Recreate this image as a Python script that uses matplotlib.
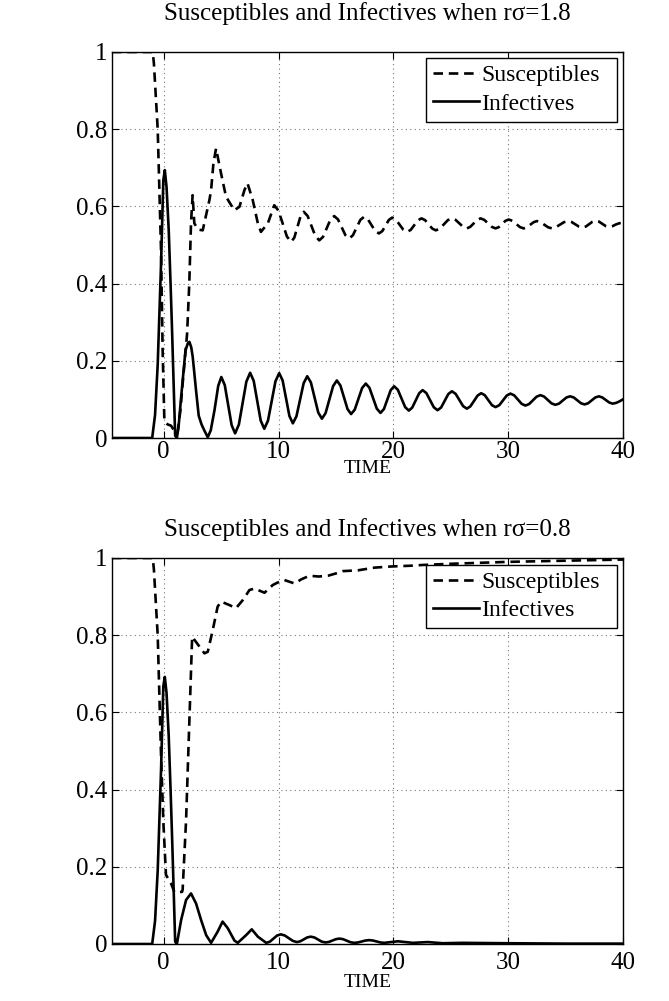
import matplotlib
matplotlib.use("Agg")
import matplotlib.pyplot as plt

plt.rcParams['font.family'] = ['Liberation Serif', 'DejaVu Serif']

# ---------------- data ----------------
titles = ["Susceptibles and Infectives when r\u03c3=1.8",
          "Susceptibles and Infectives when r\u03c3=0.8"]
series_names = ["Susceptibles", "Infectives"]
xticks = [0, 10, 20, 30, 40]
yticks = [0, 0.2, 0.4, 0.6, 0.8, 1.0]
yticklabels = ["0", "0.2", "0.4", "0.6", "0.8", "1"]

# top panel, infectives
t_i1 = [-4.5, -1.0, -0.75, -0.52, -0.23, -0.03, 0.1, 0.25, 0.44, 0.6, 0.73, 0.88, 1.0, 1.15,
        1.3, 1.52, 1.9, 2.1, 2.24, 2.4, 2.53, 2.82, 3.05, 3.3, 3.55, 3.84, 4.1, 4.42, 4.75,
        5.02, 5.32, 5.62, 5.92, 6.22, 6.55, 6.875, 7.2, 7.53, 7.84, 8.145, 8.45, 8.76,
        9.085, 9.41, 9.735, 10.06, 10.36, 10.655, 10.95, 11.25, 11.56, 11.875, 12.19, 12.5,
        12.82, 13.14, 13.46, 13.78, 14.1, 14.43, 14.755, 15.08, 15.39, 15.7, 16.01, 16.32,
        16.64, 16.96, 17.28, 17.6, 17.92, 18.24, 18.56, 18.88, 19.18, 19.475, 19.77, 20.07,
        20.39, 20.71, 21.03, 21.35, 21.65, 21.95, 22.25, 22.55, 22.875, 23.2, 23.525, 23.85,
        24.16, 24.475, 24.79, 25.1, 25.425, 25.75, 26.075, 26.4, 26.71, 27.025, 27.34, 27.65,
        27.96, 28.275, 28.59, 28.9, 29.225, 29.55, 29.875, 30.2, 30.525, 30.85, 31.175, 31.5,
        31.825, 32.15, 32.475, 32.8, 33.125, 33.45, 33.775, 34.1, 34.425, 34.75, 35.075, 35.4,
        35.71, 36.025, 36.34, 36.65, 36.96, 37.275, 37.59, 37.9, 38.2, 38.5, 38.8, 39.1,
        39.4, 39.7, 40.0]
v_i1 = [0, 0, 0.06, 0.19, 0.45, 0.668, 0.694, 0.65, 0.538, 0.40, 0.279, 0.13, 0.006, 0.0,
        0.03, 0.106, 0.227, 0.245, 0.249, 0.235, 0.21, 0.123, 0.058, 0.035, 0.019, 0.002, 0.02,
        0.071, 0.135,
        0.158, 0.137, 0.085, 0.033, 0.012, 0.035, 0.0905, 0.146, 0.169, 0.148, 0.0965, 0.045,
        0.024, 0.045, 0.096, 0.147, 0.168, 0.149, 0.103, 0.057, 0.038, 0.056, 0.099, 0.142,
        0.160, 0.144, 0.105, 0.066, 0.050, 0.0645, 0.0995, 0.1345, 0.149, 0.136, 0.1055, 0.075,
        0.062, 0.0735, 0.1015, 0.1295, 0.141, 0.13, 0.103, 0.076, 0.065, 0.075, 0.0995, 0.124,
        0.134, 0.125, 0.1025, 0.080, 0.071, 0.079, 0.0975, 0.116, 0.124, 0.1164, 0.098, 0.0796,
        0.072, 0.079, 0.0965, 0.114, 0.121, 0.1144, 0.0985, 0.0826, 0.076, 0.082, 0.096, 0.110,
        0.116, 0.111, 0.098, 0.085, 0.080, 0.085, 0.0975, 0.110, 0.115, 0.1105, 0.0995, 0.0885,
        0.084, 0.088, 0.0975, 0.107, 0.111, 0.1074, 0.0985, 0.0897, 0.086, 0.089, 0.097, 0.105,
        0.108, 0.105, 0.0975, 0.090, 0.087, 0.090, 0.0975, 0.105, 0.108, 0.105, 0.0985, 0.092,
        0.089, 0.091, 0.095, 0.100]

# top panel, susceptibles
t_s1 = [-4.5, -0.95, -0.85, -0.52, -0.23, -0.09, 0.06, 0.35, 0.64, 0.9, 1.2, 1.45, 1.65,
        2.04, 2.23, 2.38, 2.52, 2.67, 3.0, 3.4, 3.98, 4.13, 4.33, 4.56, 5.0, 5.43, 6.15, 6.6,
        7.03, 7.3, 7.76, 8.2, 8.47, 9.07, 9.63, 10.0, 10.365, 10.73, 11.1, 11.375, 11.65,
        11.925, 12.2, 12.54, 12.875, 13.21, 13.55, 13.875, 14.2, 14.525, 14.85, 15.175, 15.5,
        15.825, 16.15, 16.475, 16.8, 17.125, 17.45, 17.775, 18.1, 18.425, 18.75, 19.04,
        19.325, 19.61, 19.9, 20.225, 20.55, 20.875, 21.2, 21.51, 21.825, 22.14, 22.45, 22.76,
        23.075, 23.39, 23.7, 24.05, 24.4, 24.75, 25.1, 25.425, 25.75, 26.075, 26.4, 26.7,
        27.0, 27.3, 27.6, 27.925, 28.25, 28.575, 28.9, 29.19, 29.475, 29.76, 30.05, 30.375,
        30.7, 31.025, 31.35, 31.64, 31.925, 32.21, 32.5, 32.825, 33.15, 33.475, 33.8, 34.15,
        34.5, 34.85, 35.2, 35.525, 35.85, 36.175, 36.5, 36.775, 37.05, 37.325, 37.6, 37.9,
        38.2, 38.5, 38.8, 39.1, 39.4, 39.7, 40.0]
v_s1 = [1.0, 1.0, 0.97, 0.80, 0.486, 0.227, 0.045, 0.035, 0.032, 0.02, 0.012, 0.07, 0.14,
        0.27, 0.40, 0.556, 0.629, 0.556, 0.54, 0.538, 0.616, 0.642, 0.711, 0.75, 0.685, 0.625,
        0.59, 0.599, 0.642, 0.66, 0.616, 0.556, 0.534, 0.556, 0.603, 0.589, 0.5555, 0.522,
        0.508, 0.519, 0.547, 0.575, 0.586, 0.575, 0.549, 0.523, 0.512, 0.521, 0.5435, 0.566,
        0.575, 0.5665, 0.546, 0.5255, 0.517, 0.525, 0.545, 0.565, 0.573, 0.567, 0.5515, 0.536,
        0.530, 0.536, 0.5505, 0.565, 0.571, 0.5656, 0.5525, 0.5394, 0.534, 0.539, 0.5515,
        0.564, 0.569, 0.5645, 0.5535, 0.5425, 0.538, 0.5425, 0.5535, 0.5645, 0.569, 0.565,
        0.556, 0.547, 0.543, 0.547, 0.556, 0.565, 0.569, 0.565, 0.556, 0.547, 0.543, 0.5464,
        0.5545, 0.5626, 0.566, 0.5626, 0.5545, 0.5464, 0.543, 0.546, 0.5525, 0.559, 0.562,
        0.559, 0.5525, 0.546, 0.543, 0.546, 0.5525, 0.559, 0.562, 0.5595, 0.5535, 0.5475,
        0.545, 0.548, 0.554, 0.560, 0.563, 0.5607, 0.555, 0.549, 0.547, 0.549, 0.5535, 0.5565,
        0.558]

# bottom panel, infectives
t_i2 = [-4.5, -1.0, -0.75, -0.52, -0.23, -0.03, 0.1, 0.25, 0.44, 0.6, 0.73, 0.88, 1.0, 1.15,
        1.52, 1.95, 2.38, 2.82, 3.26, 3.7, 4.13, 4.7, 5.13, 5.58, 6.16, 6.45, 7.18, 7.67,
        8.2, 8.93, 9.25, 9.56, 9.88, 10.2, 10.55, 10.9, 11.25, 11.6, 11.9, 12.2, 12.5, 12.8,
        13.12, 13.45, 13.77, 14.1, 14.4, 14.7, 15.0, 15.3, 15.62, 15.95, 16.27, 16.6, 16.92,
        17.25, 17.57, 17.9, 18.22, 18.55, 18.87, 19.2, 19.8, 20.4, 21.05, 21.7, 22.35, 23.0,
        23.65, 24.3, 26.0, 30.0, 35.0, 40.0]
v_i2 = [0, 0, 0.06, 0.19, 0.45, 0.668, 0.692, 0.65, 0.538, 0.40, 0.279, 0.13, 0.006, 0.0,
        0.062, 0.114, 0.131, 0.105, 0.062, 0.023, 0.003, 0.032, 0.058, 0.041, 0.009, 0.003,
        0.023, 0.038, 0.019, 0.003, 0.006, 0.014, 0.022, 0.025, 0.022, 0.015, 0.008, 0.005,
        0.007, 0.012, 0.017, 0.019, 0.017, 0.0115, 0.006, 0.004, 0.0055, 0.009, 0.0125, 0.014,
        0.0125, 0.0085, 0.0045, 0.003, 0.004, 0.0065, 0.009, 0.010, 0.009, 0.0065, 0.004,
        0.003, 0.005, 0.007, 0.005, 0.003, 0.004, 0.005, 0.0035, 0.002, 0.003, 0.002, 0.001,
        0.001]

# bottom panel, susceptibles
t_s2 = [-4.5, -0.95, -0.85, -0.52, -0.23, -0.03, 0.2, 0.64, 0.93, 1.6, 1.65, 1.95, 2.24,
        2.48, 2.68, 3.55, 3.84, 4.27, 4.7, 5.0, 5.73, 6.3, 6.89, 7.47, 7.9, 8.78, 9.5, 10.1,
        10.5, 11.4, 12.0, 12.7, 13.5, 14.3, 15.0, 15.6, 16.9, 18.35, 19.8, 21.5, 22.6, 25.0,
        28.0, 30.0, 35.0, 40.0]
v_s2 = [1.0, 1.0, 0.97, 0.80, 0.49, 0.317, 0.179, 0.157, 0.135, 0.135, 0.14, 0.32, 0.58,
        0.796, 0.788, 0.753, 0.757, 0.813, 0.874, 0.887, 0.878, 0.870, 0.891, 0.917, 0.921,
        0.910, 0.930, 0.939, 0.943, 0.934, 0.945, 0.954, 0.952, 0.954, 0.96, 0.966, 0.968,
        0.975, 0.978, 0.98, 0.982, 0.985, 0.988, 0.99, 0.993, 0.996]

panels = [(t_s1, v_s1, t_i1, v_i1), (t_s2, v_s2, t_i2, v_i2)]

# ---------------- drawing ----------------
W, H = 669, 1001
fig = plt.figure(figsize=(W / 100, H / 100), dpi=100)

# axes boxes in pixels: left, right, top, bottom
boxes = [(112, 623, 52, 438), (112, 623, 558, 944)]
title_y_px = [14, 530]
label_pads = [2.0, 6.0]
time_y = [-0.079, -0.1]
# legend boxes in axes fractions: x0, y_top, width
legend_box = [(0.6145, 0.985, 0.374), (0.6145, 0.983, 0.374)]

for k, ((ts, vs, ti, vi), (l, r, t, b)) in enumerate(zip(panels, boxes)):
    ax = fig.add_axes([l / W, 1 - b / H, (r - l) / W, (b - t) / H])
    ax.plot(ts, vs, color='black', lw=1.9, linestyle=(0, (3.6, 2.2)),
            label=series_names[0])
    ax.plot(ti, vi, color='black', lw=1.9, linestyle='-', label=series_names[1])
    ax.set_xlim(-4.5, 40)
    ax.set_ylim(0, 1)
    ax.set_xticks(xticks)
    ax.set_xticklabels([str(x) for x in xticks])
    ax.set_yticks(yticks)
    ax.set_yticklabels(yticklabels)
    ax.grid(True, linestyle=(0, (1, 3)), color='#777777', lw=0.8)
    ax.set_axisbelow(True)
    ax.tick_params(direction='in', top=True, right=True, length=5, width=0.8,
                   labelsize=18, colors='black')
    ax.tick_params(axis='x', pad=label_pads[k])
    ax.tick_params(axis='y', pad=3.5)
    for sp in ax.spines.values():
        sp.set_linewidth(1.0)
        sp.set_color('black')
    fig.text((l + r) / 2 / W, 1 - title_y_px[k] / H, titles[k], ha='center',
             va='center', fontsize=18)
    ax.text(0.5, time_y[k], "TIME", transform=ax.transAxes, ha='center',
            va='center', fontsize=14)
    x0, ytop, w = legend_box[k]
    leg = ax.legend(loc='upper right', bbox_to_anchor=(x0, ytop - 0.3, w, 0.3),
                    mode='expand', borderaxespad=0, fancybox=False, framealpha=1,
                    edgecolor='black', fontsize=17, handlelength=1.95,
                    handletextpad=0.1, borderpad=0.3, labelspacing=0.28)
    leg.get_frame().set_linewidth(1.0)

fig.savefig("out.png", dpi=100)
